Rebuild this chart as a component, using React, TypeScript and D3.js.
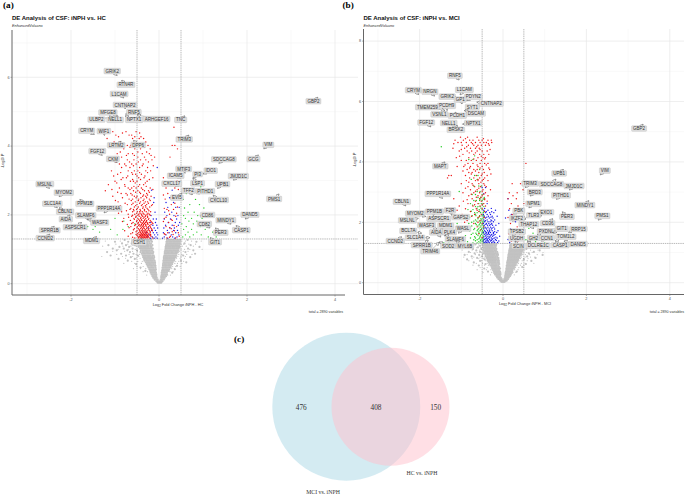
import React from "react";
import * as d3 from "d3";

// Each row: [-log10 P, log2FC, log2FC, ...]
const greyA: number[][] = [
[0.03,-.03,-.01,.01,.03,.05],[0.07,-.06,-.04,-.02,.02,.04,.06,.08],[0.12,-.1,-.08,-.05,-.03,.04,.06,.08,.11],
[0.17,-.13,-.1,-.08,-.05,.05,.07,.1,.13],[0.22,-.15,-.12,-.09,-.06,.05,.08,.11,.14,.16],[0.27,-.17,-.14,-.11,-.08,-.06,.06,.09,.12,.15,.18],
[0.32,-.19,-.16,-.13,-.1,-.07,.06,.09,.12,.15,.18,.3],[0.37,-.31,-.2,-.17,-.14,-.11,-.08,.07,.1,.13,.16,.19,.22],[0.42,-.22,-.19,-.16,-.13,-.1,-.07,.08,.11,.14,.17,.2,.23,.36],
[0.47,-.42,-.24,-.21,-.18,-.15,-.12,-.08,.08,.11,.14,.17,.2,.23,.26],[0.52,-.26,-.23,-.2,-.17,-.14,-.11,-.08,.09,.12,.15,.18,.21,.24,.27,.41],[0.57,-.52,-.28,-.25,-.22,-.19,-.16,-.13,-.09,.09,.12,.15,.18,.21,.24,.27,.3],
[0.62,-.3,-.27,-.24,-.21,-.18,-.15,-.12,-.09,.1,.13,.16,.19,.22,.25,.28,.31,.62],[0.67,-.71,-.33,-.29,-.26,-.23,-.2,-.17,-.14,-.1,.1,.13,.16,.19,.22,.25,.28,.31,.34,.5],[0.72,-.92,-.55,-.34,-.31,-.28,-.25,-.22,-.19,-.16,-.12,.11,.14,.17,.2,.23,.26,.29,.32,.35],
[0.77,-.64,-.36,-.33,-.3,-.27,-.24,-.21,-.18,-.15,-.11,.11,.14,.17,.2,.23,.26,.29,.32,.35,.38,.71],[0.82,-1.1,-.75,-.48,-.37,-.34,-.31,-.28,-.25,-.22,-.19,-.15,-.12,.12,.15,.18,.21,.24,.27,.3,.33,.36,.39,.55],[0.87,-.86,-.58,-.39,-.36,-.33,-.3,-.27,-.24,-.21,-.18,-.14,.13,.16,.19,.22,.25,.28,.31,.34,.37,.4,.82],
[0.92,-1.18,-.66,-.42,-.38,-.35,-.32,-.29,-.26,-.23,-.2,-.16,-.13,.13,.16,.19,.22,.25,.28,.31,.34,.37,.4,.43,.6],[0.97,-.96,-.72,-.5,-.41,-.37,-.34,-.31,-.28,-.25,-.22,-.18,-.15,.14,.17,.2,.23,.26,.29,.32,.35,.38,.41,.44,.78],[1.02,-1.05,-.8,-.6,-.43,-.4,-.37,-.34,-.31,-.28,-.25,-.21,-.18,-.14,.15,.18,.21,.24,.27,.3,.33,.36,.39,.42,.45,.66],
[1.07,-.9,-.68,-.46,-.42,-.39,-.36,-.33,-.3,-.27,-.24,-.2,-.17,.15,.18,.21,.24,.27,.3,.33,.36,.39,.42,.45,.47,.92],[1.12,-1.15,-.75,-.55,-.45,-.41,-.38,-.35,-.32,-.29,-.26,-.23,-.19,-.15,.16,.19,.22,.25,.28,.31,.34,.37,.4,.43,.46,.72],[1.17,-.84,-.62,-.47,-.44,-.41,-.38,-.35,-.32,-.29,-.26,-.22,-.18,.17,.2,.23,.26,.29,.32,.35,.38,.41,.44,.47,.58],
[1.22,-1.0,-.7,-.52,-.46,-.43,-.4,-.37,-.34,-.31,-.28,-.25,-.21,-.16,.17,.2,.23,.26,.29,.32,.35,.38,.41,.44,.47,.85],[1.27,-.78,-.58,-.48,-.45,-.42,-.39,-.36,-.33,-.3,-.27,-.24,-.2,-.17,.18,.21,.24,.27,.3,.33,.36,.39,.42,.45,.48,.65],
];
const greyHaloA: number[][] = [
[1.24,-1.22,-.88,-.62,-.55,.52,.6,.74,.96],[1.15,-.98,-.71,-.57,.5,.56,.68,.83],[1.09,-1.28,-.82,-.64,-.52,.53,.62,.78],[1.0,-.93,-.7,-.54,.5,.58,.7,.98],
[.94,-1.05,-.78,-.6,-.49,.47,.55,.66],[.85,-.96,-.68,-.52,-.44,.45,.52,.63,.75],[.79,-1.3,-.83,-.6,-.46,.43,.5,.6],[.74,-.76,-.52,-.43,.4,.48,.58],
[.65,-.62,-.48,-.38,.38,.45,.56],[.59,-.8,-.55,-.4,.36,.42,.52],[.5,-.5,-.36,.31,.38,.48],[.44,-.58,-.42,-.3,.29,.35],[.35,-.36,-.26,.25,.32],[.25,-.28,.2,.26],
];
const redA: number[][] = [
[4.55,.34],[4.42,-1.05,-.75,-.52],[4.32,-.98,-.68,-.62],[4.22,-1.18,-.6,-.45,-.35],[4.12,-1.02,-.88,-.56,-.3],[4.02,-.72,-.64,-.5,-.25,.3,.36],
[3.92,-.8,-.55,-.42,-.2,.42],[3.78,-.95,-.7,-.6,-.38,-.22],[3.68,-.85,-.48,-.33,-.1,.25],[3.6,-1.12,-1.0,-.72,-.57,-.42,-.3,-.16],[3.48,-.9,-.78,-.62,-.52,-.36],
[3.38,-.85,-.66,-.44,-.26,.48],[3.28,-1.08,-.7,-.56,-.48,-.3,-.19],[3.18,-.94,-.6,-.53,-.4,.25],[3.08,-.82,-.74,-.46,-.34,-.14,.1],[2.98,-1.0,-.65,-.58,-.5,-.27,.41],
[2.88,-1.15,-.78,-.44,-.35,.3],[2.78,-.9,-.7,-.62,-.52,-.4,-.2,.16,.36],[2.7,-1.22,-.58,-.48,-.33,-.24],[2.62,-.86,-.75,-.64,-.42,-.28,.2],[2.54,-1.05,-.56,-.5,-.37,-.3,-.18,.34],
[2.46,-.68,-.6,-.46,-.34,-.22,.14],[2.38,-.93,-.54,-.42,-.31,-.26],[2.3,-.72,-.62,-.5,-.38,-.28,-.15,.28],[2.23,-1.28,-.56,-.47,-.36,-.3,-.21,.42],
[2.16,-.66,-.58,-.51,-.43,-.33,-.25,.18,.33],[2.09,-.85,-.6,-.49,-.44,-.38,-.29,-.19],[2.02,-.7,-.55,-.46,-.4,-.34,-.27,-.22,.24],[1.96,-.62,-.52,-.45,-.37,-.31,-.26,.38],
[1.9,-.8,-.57,-.48,-.42,-.36,-.3,-.23,.12],[1.84,-.65,-.5,-.44,-.39,-.33,-.28,-.2,.3],[1.78,-.59,-.47,-.41,-.36,-.31,-.27,-.22,-.16,.22],[1.72,-.72,-.53,-.45,-.4,-.35,-.3,-.25,-.18],
[1.66,-.64,-.49,-.43,-.38,-.34,-.29,-.24,-.2,.4,.16],[1.6,-.56,-.47,-.42,-.37,-.33,-.28,-.23,-.17,.28],[1.54,-.78,-.5,-.44,-.4,-.36,-.32,-.27,-.22,-.15,.35],[1.48,-.6,-.46,-.42,-.38,-.34,-.3,-.26,-.2,.2,.44],
[1.43,-.52,-.45,-.41,-.37,-.33,-.29,-.25,-.19,.14,.32],[1.38,-.7,-.48,-.44,-.4,-.36,-.32,-.28,-.24,-.18,.26,.46],[1.33,-.55,-.47,-.43,-.39,-.35,-.31,-.27,-.22,-.14,.18,.38],
[4.38,-.83,-.44],[4.27,-.92,-.41,-.55],[4.07,-.79,-.38,-.6],[3.97,-1.1,-.66,-.33],[3.83,-.88,-.48,-.28],[3.73,-.74,-.56,-.18],[3.54,-.98,-.67,-.47,-.24],[3.43,-.75,-.58,-.38,-.13],
[3.23,-.87,-.62,-.44,-.26],[3.13,-1.03,-.71,-.5,-.32,.32],[3.03,-.86,-.6,-.42,-.22],[2.93,-.96,-.54,-.31,.2],[2.83,-.77,-.57,-.47,-.29],[2.74,-1.07,-.66,-.37,-.14,.44],[2.66,-.94,-.53,-.44,-.22],
[2.58,-.72,-.61,-.35,-.26,.1],[2.5,-.83,-.52,-.41,-.28,.27],[2.42,-.99,-.63,-.47,-.36,-.2],[2.34,-.77,-.59,-.44,-.34,-.24,.36],[2.27,-.88,-.53,-.4,-.31,-.17],[2.19,-.64,-.49,-.37,-.27,.12],
[2.12,-.74,-.57,-.42,-.33,-.23,.22],[2.05,-.92,-.51,-.43,-.36,-.25,.4],[1.99,-.6,-.48,-.39,-.3,-.2],[1.93,-.69,-.53,-.41,-.34,-.26,.16],[1.87,-.56,-.46,-.4,-.32,-.24,.28],[1.81,-.83,-.51,-.43,-.35,-.29,-.18,.1],
[1.75,-.62,-.48,-.38,-.33,-.26,-.14],[1.69,-.55,-.46,-.41,-.36,-.3,-.21,.34],[1.63,-.68,-.5,-.4,-.35,-.27,-.19,.24],[1.57,-.58,-.45,-.38,-.31,-.24,-.16],[1.51,-.52,-.43,-.37,-.32,-.28,-.2,.3],
[1.45,-.64,-.49,-.4,-.35,-.3,-.23,.12],[1.4,-.5,-.42,-.38,-.34,-.3,-.26,-.2],[1.35,-.6,-.46,-.41,-.37,-.33,-.29,-.25,.24],
];
const blueA: number[][] = [
[3.38,-.04],[2.72,-.17,.3],[2.5,-.11,.24,.41],[2.36,-.12,.16,.33],[2.22,.2,.38,.46],[2.08,-.09,.13,.29],[1.98,-.18,.18,.34,.43],
[1.88,-.13,-.06,.12,.26,.4],[1.78,-.2,-.08,.21,.37,.47],[1.7,-.14,-.05,.15,.3,.44],[1.62,-.24,-.11,-.03,.11,.25,.35],[1.55,-.17,-.08,.19,.33,.42],
[1.48,-.29,-.13,-.05,.1,.23,.38],[1.42,-.22,-.1,-.03,.16,.28,.45],[1.36,-.26,-.15,-.07,.12,.31,.41],[1.32,-.19,-.11,-.04,.08,.2,.36],
];
const greenA: number[][] = [
[2.82,.95],[2.62,.62],[2.45,.83,.55],[2.3,.7,.92],[2.2,1.02,.58],[2.08,.66,.8],[1.98,.56,.88,1.18],[1.9,.74,.98,.6,-1.0],[1.82,-1.28,-.8,.68,.86],
[1.74,.52,.78,1.08,-.55],[1.66,-1.62,-1.45,.62,.94,-.7],[1.58,-1.5,-1.1,-.82,.74,1.05,.56],[1.5,-1.35,.86,.66,1.22],[1.42,.6,.78,.96,-.95],[1.36,.54,.7,1.12,1.3],
];
const greyB: number[][] = [
[0.03,-.04,-.02,.0,.02,.04],[0.07,-.07,-.05,-.02,.02,.05,.07,.09],[0.12,-.11,-.08,-.06,-.03,.03,.06,.09,.12],[0.17,-.14,-.11,-.08,-.05,.05,.08,.11,.14],
[0.22,-.16,-.13,-.1,-.07,.05,.08,.11,.14,.17],[0.27,-.19,-.15,-.12,-.09,-.06,.06,.09,.12,.15,.18],[0.32,-.21,-.18,-.15,-.12,-.09,-.06,.06,.09,.12,.15,.18,.21],
[0.37,-.36,-.22,-.19,-.16,-.13,-.1,-.07,.07,.1,.13,.16,.19,.22,.33],[0.42,-.24,-.21,-.18,-.15,-.12,-.09,.08,.11,.14,.17,.2,.23],[0.47,-.45,-.26,-.23,-.2,-.17,-.14,-.1,-.07,.08,.11,.14,.17,.2,.23,.26],
[0.52,-.27,-.24,-.21,-.18,-.15,-.12,-.09,.09,.12,.15,.18,.21,.24,.27,.46],[0.57,-.58,-.3,-.27,-.24,-.21,-.18,-.15,-.11,.09,.12,.15,.18,.21,.24,.27,.3],[0.62,-.42,-.32,-.28,-.25,-.22,-.19,-.16,-.12,-.09,.1,.13,.16,.19,.22,.25,.28,.31,.55],
[0.67,-.7,-.34,-.3,-.27,-.24,-.21,-.18,-.14,-.1,.1,.13,.16,.19,.22,.25,.28,.31,.34],[0.72,-.55,-.36,-.33,-.3,-.27,-.24,-.21,-.18,-.14,-.1,.11,.14,.17,.2,.23,.26,.29,.32,.35,.68],[0.77,-.86,-.44,-.37,-.34,-.31,-.28,-.25,-.22,-.19,-.15,-.11,.12,.15,.18,.21,.24,.27,.3,.33,.36,.5],
[0.82,-.62,-.39,-.36,-.33,-.3,-.27,-.24,-.21,-.18,-.14,-.11,.12,.15,.18,.21,.24,.27,.3,.33,.36,.39,.78],[0.87,-.75,-.5,-.41,-.37,-.34,-.31,-.28,-.25,-.22,-.18,-.14,.13,.16,.19,.22,.25,.28,.31,.34,.37,.4,.58],[0.92,-.92,-.57,-.42,-.38,-.35,-.32,-.29,-.26,-.23,-.2,-.16,-.12,.13,.16,.19,.22,.25,.28,.31,.34,.37,.4,.43,.95],
[0.97,-.68,-.47,-.43,-.39,-.36,-.33,-.3,-.27,-.24,-.21,-.17,-.13,.14,.17,.2,.23,.26,.29,.32,.35,.38,.41,.44,.62],[1.02,-.82,-.55,-.45,-.41,-.38,-.35,-.32,-.29,-.26,-.22,-.18,-.14,.15,.18,.21,.24,.27,.3,.33,.36,.39,.42,.45,.74],[1.07,-.64,-.47,-.43,-.4,-.37,-.34,-.31,-.28,-.25,-.21,-.17,.15,.18,.21,.24,.27,.3,.33,.36,.39,.42,.45,.47,.88],
[1.12,-.72,-.52,-.46,-.42,-.39,-.36,-.33,-.3,-.27,-.24,-.2,-.16,.16,.19,.22,.25,.28,.31,.34,.37,.4,.43,.46,.56],[1.17,-.6,-.48,-.44,-.41,-.38,-.35,-.32,-.29,-.26,-.22,-.18,.17,.2,.23,.26,.29,.32,.35,.38,.41,.44,.47,.7],[1.22,-.78,-.55,-.47,-.43,-.4,-.37,-.34,-.31,-.28,-.25,-.21,-.17,.17,.2,.23,.26,.29,.32,.35,.38,.41,.44,.47,1.0],
[1.27,-.66,-.49,-.45,-.42,-.39,-.36,-.33,-.3,-.27,-.24,-.2,-.16,.18,.21,.24,.27,.3,.33,.36,.39,.42,.45,.48,.6],
];
const greyHaloB: number[][] = [
[1.25,-.92,-.7,-.58,.52,.62,.8,1.02],[1.16,-.85,-.63,-.53,.5,.58,.72,.9],[1.08,-.98,-.74,-.56,.52,.66,.84],[1.0,-.78,-.62,-.51,.5,.57,.7,.96],[.93,-.86,-.66,-.49,.47,.54,.64,.82],
[.85,-.94,-.7,-.55,-.45,.44,.53,.66,.76],[.8,-.74,-.58,-.47,.42,.49,.6],[.73,-.82,-.52,-.41,.38,.46,.58],[.64,-.64,-.49,-.38,.37,.44,.53,.74],[.58,-.72,-.44,-.35,.34,.42,.5],
[.5,-.55,-.38,.3,.38,.48],[.43,-.62,-.4,-.29,.28,.36],[.34,-.48,-.27,.24,.31],[.26,-.3,.2,.27],
];
const redB: number[][] = [
[4.82,-1.02,-.85,-.62],[4.72,-1.15,-.95,-.8,-.72,-.58,-.5,-.36,-.28],[4.64,-1.08,-1.0,-.88,-.76,-.66,-.55,-.46,-.4,-.27],[4.55,-.98,-.83,-.7,-.6,-.52,-.42,-.33],[4.45,-1.2,-.92,-.78,-.66,-.57],
[4.36,-1.05,-.86,-.75,-.62,-.5,-.38],[4.25,-.96,-.7,-.56,-.46,-.34],[4.14,-1.12,-.82,-.6,-.48,-.42],[4.05,-1.0,-.88,-.76,-.64,-.52],[3.95,-.84,-.72,-.55,-.44,-.36,.55],
[3.85,-1.1,-.94,-.78,-.6,-.5],[3.75,-.86,-.7,-.62,-.47,-.32],[3.65,-.82,-.74,-.58,-.45],[3.55,-1.3,-1.24,-.9,-.64,-.52,-.38],[3.47,-1.33,-.8,-.7,-.56,-.44],
[3.38,-.88,-.66,-.6,-.5,-.36],[3.28,-1.0,-.74,-.58,-.46,.22,.42],[3.18,-.84,-.68,-.54,-.4],[3.08,-.78,-.62,-.48,-.3,.48],[2.98,-.96,-.7,-.56,-.42,.15,.34],
[2.88,-.82,-.6,-.5,-.36,.24],[2.78,-1.18,-.74,-.56,-.44,.12,.32],[2.7,-.95,-.66,-.52,-.38],[2.62,-.84,-.6,-.46,.5,.2],[2.54,-1.05,-.72,-.55,-.42,.36],
[2.45,-.9,-.64,-.5,.16,.3],[2.36,-.78,-.58,-.44,.4],[2.26,-.98,-.68,-.52,.22],[2.16,-.6,-.45,.12],[2.06,-.86,-.55,.28,.44],[1.96,-.7,-.5,.18],
[1.85,-.62,-.46,.34],[1.75,-.54,.24],[1.62,-.58,.4,.14],[1.5,-.5,.28],[1.38,.2,.36],
[4.77,-.9,-.47],[4.6,-1.18,-.73,-.35],[4.5,-.87,-.63],[4.41,-1.0,-.55,-.31],[4.3,-.81,-.66],[4.19,-1.04,-.52],[4.1,-.7,-.44],[3.9,-.91,-.62,-.4],[3.8,-.8,-.55,-.34],[3.7,-.96,-.66],
[3.6,-.76,-.5,-.29],[3.42,-.6,-.47],[3.33,-.82,-.53],[3.23,-.72,-.44],[3.13,-.9,-.58],[3.03,-.66,-.5],[2.93,-.76,-.46],[2.83,-.64,-.53],[2.75,-.86,-.44],[2.58,-.68,-.5],[2.4,-1.1,-.62],[2.2,-.75,-.56],[2.0,-.92,-.6],
];
const greenB: number[][] = [
[4.5,-1.48],[4.2,-.68],[4.08,-.72,-.82],[3.75,-.56],[3.55,-.68,-.6],[3.42,-.62,-.76],[3.2,-.7,-.52,-.58],[3.02,-1.05,-.62,-.55],[2.92,-.66,-.5,-.74],
[2.82,-.6,-.53,-.45],[2.72,-.7,-.64,-.5,-.56],[2.62,-.78,-.58,-.48,-.52],[2.52,-.66,-.6,-.55,-.46],[2.42,-.84,-.72,-.57,-.5],[2.32,-.62,-.54,-.47,-.68],
[2.22,-.74,-.65,-.56,-.5,-.46],[2.12,-.9,-.6,-.53,-.48],[2.04,-.7,-.63,-.57,-.5,-.46],[1.96,-1.1,-.82,-.66,-.55,-.48],[1.88,-.75,-.6,-.53,-.47],
[1.8,-.68,-.58,-.51,-.46,.62],[1.72,-1.05,-.8,-.62,-.55,-.49],[1.64,-.72,-.65,-.57,-.5,-.46,.72],[1.56,-.9,-.6,-.54,-.48],[1.48,-1.2,-.78,-.66,-.56,-.5,.88],
[1.42,-.7,-.62,-.53,-.47,.55],[1.36,-1.3,-.85,-.58,-.5,.78],[1.32,-1.42,-.72,-.62,-.55,-.47,1.0],
[2.77,-.55,-.47],[2.57,-.73,-.49],[2.47,-.62,-.53],[2.37,-.76,-.56,-.46],[2.27,-.66,-.5],[2.17,-.8,-.58,-.47],[2.08,-.66,-.52],[2.0,-.75,-.54,-.48],[1.92,-.64,-.57,-.5],[1.84,-.8,-.55,-.47],[1.76,-.7,-.6,-.52],
[1.68,-.58,-.5,-.47],[1.6,-.76,-.63,-.52],[1.52,-.68,-.55,-.47],[1.45,-.58,-.5],[1.39,-.66,-.54,-.48],
];
const blueB: number[][] = [
[3.15,-.5,-.42],[2.95,-.46],[2.78,.12],[2.62,-.38],[2.46,-.44,-.28],[2.4,-.46,-.36,-.18,.14],[2.32,-.42,-.32,-.22],[2.26,-.47,-.38,-.3,.2],[2.2,-.45,-.35,-.26,-.14],
[2.14,-.42,-.33,-.24,.06],[2.08,-.46,-.38,-.29,-.2],[2.02,-.44,-.36,-.31,-.23,.3],[1.96,-.47,-.4,-.34,-.27,-.1],[1.9,-.45,-.37,-.32,-.25,-.17],[1.84,-.43,-.36,-.3,-.22],
[1.78,-.46,-.39,-.33,-.28,-.2,.18],[1.72,-.44,-.37,-.32,-.26,-.12],[1.66,-.47,-.4,-.35,-.3,-.23,-.15],[1.6,-.45,-.38,-.33,-.27,-.19],[1.54,-.43,-.36,-.31,-.25,-.08,.24],
[1.48,-.46,-.4,-.34,-.28,-.21,-.14],[1.43,-.44,-.38,-.32,-.26,-.18,.12],[1.38,-.47,-.41,-.35,-.3,-.22,-.1,.3],[1.33,-.45,-.39,-.33,-.27,-.2,-.13,.16],
[2.35,-.4,-.27],[2.17,-.39,-.29],[2.05,-.42,-.27],[1.93,-.41,-.29],[1.81,-.41,-.26],[1.69,-.42,-.33,-.2],[1.63,-.41,-.35,-.23],[1.57,-.41,-.29,-.22],[1.51,-.39,-.32,-.17],[1.46,-.42,-.36,-.24],[1.4,-.38,-.28,-.16],[1.35,-.42,-.36,-.24],
];

const geneNamesA = ["GRIK2","RTN4R","L1CAM","CNTNAP2","MFGE8","RNF5","ULBP2","NELL1","NPTX1","ARHGEF16","TNC","CRYM","WIF1","LRTM2","DPP6","FGF12","CKM","MSLNL","MYOM2","SLC1A4","PPM1B","CBLN1","PPP1R14A","SLAMF6","AIDA","WASF3","ASPSCR1","SPRR1B","CCND2","MDM1","CSH1","GBP2","TRIM3","VIM","SDCCAG8","GCG","IDO1","PI3","MTIF3","ICAM5","CXCL17","JMJD1C","UPB1","LSP1","TFF2","PITHD1","CXCL10","EVI5","PMS1","CD86","DAND5","MINDY1","CD82","CASP1","PER3","GIT1"];
const geneFcA = [-.95,-.85,-.8,-.77,-.95,-.76,-1.05,-.93,-.77,-.5,.59,-1.47,-1.24,-.86,-.58,-1.29,-.95,-2.49,-2.27,-2.31,-1.8,-2.27,-1.25,-1.62,-2.02,-1.62,-1.76,-2.38,-2.48,-1.42,-.39,3.61,.68,2.38,1.36,2.26,1.0,.77,.59,.5,.45,1.69,1.33,.77,.76,.84,1.23,.52,2.73,.93,1.96,1.64,1.16,1.75,1.28,1.16];
const geneLpA = [6.05,5.92,5.4,5.08,4.88,4.93,4.85,4.88,4.88,4.91,4.88,4.34,4.31,4.14,4.17,3.73,3.52,2.77,2.53,2.21,2.45,2.21,2.06,1.85,2.0,1.87,1.78,1.67,1.44,1.37,1.32,5.42,4.32,3.92,3.5,3.74,3.19,3.07,3.21,3.07,2.84,3.01,2.77,3.07,2.58,2.63,2.57,2.63,2.61,1.97,1.88,1.73,1.62,1.69,1.62,1.34];
const labelDxA = [-5,4.3,-4.7,0,-9.3,8.3,-16.3,-3,9,19.7,-4.3,-7.6,-.6,-5,4.7,-5,-4.3,-4.6,4.7,-5,5,6,5,-2,-4.3,12,-6.4,-4.6,-4.7,-5,-2.7,-4.4,-4.7,4.6,5,-5,7.7,4.7,-1.3,-5.3,-7,5,5,4.7,-4,9.3,5.4,-5,-5,7.7,4.7,-5.3,-5.7,5.3,5.4,5];
const labelDyA = [-4.5,4.7,-4,-4,-3.4,-2,2.7,4,4,4.3,4,-3.6,-4.3,4,4.7,-4.3,-3.7,-4.3,-4,-4,4.4,4,-4.4,-4.7,4.3,3.2,4.7,4,4,4.3,4.4,4,4.3,-4,-4,4,-3.3,-4,-4.3,-2.3,-2.3,-4,-4.3,5.3,-4.3,-2,4.7,4.4,5,-1,-4.3,-4,-4,4.6,4.7,4.6];

const geneNamesB = ["RNF5","CRYM","NRGN","L1CAM","GRIK2","PDYN2","GP1","CNTNAP2","SYT1","PCDH9","TMEM259","DSCAM","VSNL1","PCDH1","FGF12","NELL1","NPTX1","BRSK2","MAPT","PPP1R14A","CBLN1","PPM1B","F2R","MYOM2","GAPS2","ASPSCR1","MSLNL","WASF3","MDM1","WASL","BCL7A","AIDA","PLK4","SLC1A4","SLAMF6","CCND2","SPRR1B","SOD2","MYL6B","TRIM46","GBP2","VIM","UPB1","TRIM3","SDCCAG8","JMJD1C","BRD3","PITHD1","NPM1","MINDY1","PBK","EXO1","TLR3","IKZF2","PER3","PMS1","CD36","THAP12","PXDNL","GIT1","RRP15","TPSB2","UGDH","GH2","CCN1","TOM1L2","CASP1","DAND5","DCLRE1C","SCIN"];
const geneFcB = [-1.05,-2.02,-1.64,-1.03,-1.13,-.87,-.98,-.63,-.91,-1.34,-1.39,-.93,-1.34,-1.15,-1.73,-1.15,-.97,-1.1,-1.39,-1.45,-2.33,-1.67,-1.23,-1.85,-1.23,-1.43,-2.03,-1.58,-1.51,-1.07,-1.95,-1.49,-1.41,-1.75,-1.39,-2.43,-1.79,-1.53,-1.13,-1.53,3.36,2.33,1.45,.53,1.27,1.59,.65,1.28,.62,2.06,.25,.84,.46,.22,1.42,2.28,1.2,.74,.82,1.2,1.57,.22,.19,.58,.91,1.25,1.25,1.46,.58,.29];
const geneLpB = [6.71,6.23,6.18,6.22,6.16,6.03,5.92,5.98,5.72,5.7,5.7,5.7,5.65,5.65,5.16,5.19,5.25,5.22,4.0,2.79,2.54,2.22,2.24,2.19,2.24,2.02,2.13,1.78,1.71,1.64,1.64,1.51,1.55,1.49,1.58,1.52,1.41,1.35,1.38,1.34,5.25,3.57,3.76,3.15,3.43,3.07,2.87,2.76,2.48,2.72,2.27,2.21,2.11,2.04,2.35,2.07,2.12,1.79,1.58,1.65,1.67,1.55,1.42,1.38,1.38,1.38,1.35,1.38,1.35,1.38];
const labelDxB = [-4.3,-5.4,-4.7,4.3,-8.7,6.6,-2,14.6,7.3,-.6,-17.7,11.7,-7.7,2.3,-4.7,-6.3,10.6,-1.3,-4.7,-4.7,-4,1,-1.7,-10.7,9,-4.6,-11,-10.6,5.7,4.7,-13.4,-4.7,5.3,-15,10.3,-6.4,-6.6,9,9,-9,-4,4.7,-4.3,5,-4.7,4.7,4.7,4.7,4.6,-4,5.4,8.3,11.3,4.7,4.7,4.3,-5.3,-5,9,8.7,10,4.7,5.7,6.3,6,10.7,5,14.3,11,3.3];
const labelDyB = [-4.3,-4.4,-4.3,-5,0,-3.7,-4.3,1.7,-3,-4.7,-3.4,3,2.3,3.7,-4.3,-3,-1,4.7,4.3,-4.6,-4.3,-4,-4.7,-3,2,-3,2,-3.7,-5.3,-4.6,-2.3,-4.7,-3.7,0,4.3,4.3,5,4,5,9,4.4,-4.3,4.3,-4,5,-4,-4,-4,-4,4.6,-3.3,-3.7,-3.7,-3,5,-4.3,4.6,-4.4,-3.7,-4,-3.3,-4.3,-1.3,-3,-3,-4.3,3.3,3,3.7,5];

const xTicks = [-2, 0, 2, 4];
const xMinor = [-3, -1, 1, 3];
const yTicksA = [0, 2, 4, 6];
const yTicksB = [0, 2, 4, 6, 8];
const yMinor = [1, 3, 5, 7];
const vennCounts = [476, 408, 150];
const vennNames = ["MCI vs. iNPH", "HC vs. iNPH"];

const SANS = "'Liberation Sans', Arial, sans-serif";
const SERIF = "'Liberation Serif', 'Times New Roman', serif";

const ctx = typeof document !== "undefined" ? document.createElement("canvas").getContext("2d") : null;
function textWidth(s: string, font: string) {
  if (!ctx) return s.length * 3;
  ctx.font = font;
  return ctx.measureText(s).width;
}

function expand(rows: number[][]) {
  const out: [number, number][] = [];
  rows.forEach((r) => r.slice(1).forEach((x) => out.push([x, r[0]])));
  return out;
}

type VolcanoProps = {
  left: number; right: number; gridRight: number; top: number; bottom: number;
  x0: number; xUnit: number; y0: number; yUnit: number;
  title: string; xLabel: string; titleY: number; subY: number; captionX: number; captionY: number;
  xLabelX: number; xLabelY: number; yLabelX: number; yLabelY: number;
  grey: number[][]; halo: number[][]; red: number[][]; blue: number[][]; green: number[][];
  yTicks: number[]; names: string[]; fc: number[]; lp: number[]; dx: number[]; dy: number[];
};

function Volcano(p: VolcanoProps) {
  const x = d3.scaleLinear().domain([0, 1]).range([p.x0, p.x0 + p.xUnit]);
  const y = d3.scaleLinear().domain([0, 1]).range([p.y0, p.y0 - p.yUnit]);
  const layers: [number[][], string, number][] = [
    [p.grey, "#c2c2c2", 1.1], [p.halo, "#c2c2c2", 0.6], [p.green, "#22cc22", 0.7], [p.blue, "#1a1ae6", 0.7], [p.red, "#ee1111", 0.7],
  ];
  const labelFont = `4.5px ${SANS}`;
  const yTop = p.top;
  return (
    <g>
      {yMinor.map((t) => y(t) > yTop && <line key={t} x1={p.left} x2={p.gridRight} y1={y(t)} y2={y(t)} stroke="#f3f3f3" strokeWidth={0.5} />)}
      {xMinor.map((t) => <line key={t} x1={x(t)} x2={x(t)} y1={p.top} y2={p.bottom} stroke="#f3f3f3" strokeWidth={0.5} />)}
      {p.yTicks.map((t) => <line key={t} x1={p.left} x2={p.gridRight} y1={y(t)} y2={y(t)} stroke="#e8e8e8" strokeWidth={0.7} />)}
      {xTicks.map((t) => <line key={t} x1={x(t)} x2={x(t)} y1={p.top} y2={p.bottom} stroke="#e8e8e8" strokeWidth={0.7} />)}
      {layers.map(([rows, col, r], i) => (
        <g key={i} fill={col}>
          {expand(rows).map(([a, b], j) => <circle key={j} cx={x(a)} cy={y(b)} r={r} />)}
        </g>
      ))}
      {[-0.5, 0.5].map((v) => <line key={v} x1={x(v)} x2={x(v)} y1={p.top} y2={p.bottom} stroke="#8a8a8a" strokeWidth={0.6} strokeDasharray="1.4 0.8" />)}
      <line x1={p.left} x2={p.gridRight} y1={y(1.3)} y2={y(1.3)} stroke="#8a8a8a" strokeWidth={0.6} strokeDasharray="1.4 0.8" />
      <line x1={p.left} x2={p.left} y1={p.top} y2={p.bottom} stroke="#666" strokeWidth={1} />
      <line x1={p.left} x2={p.right} y1={p.bottom} y2={p.bottom} stroke="#666" strokeWidth={1} />
      {xTicks.map((t) => (
        <g key={t}>
          <line x1={x(t)} x2={x(t)} y1={p.bottom} y2={p.bottom + 1.5} stroke="#666" strokeWidth={0.5} />
          <text x={x(t)} y={p.bottom + 5.5} fontSize={3.8} textAnchor="middle" fill="#555" fontFamily={SANS}>{t < 0 ? `-${-t}` : t}</text>
        </g>
      ))}
      {p.yTicks.map((t) => (
        <g key={t}>
          <line x1={p.left - 1.5} x2={p.left} y1={y(t)} y2={y(t)} stroke="#666" strokeWidth={0.5} />
          <text x={p.left - 2.5} y={y(t) + 1.3} fontSize={3.8} textAnchor="end" fill="#555" fontFamily={SANS}>{t}</text>
        </g>
      ))}
      {p.names.map((n, i) => {
        const px = x(p.fc[i]), py = y(p.lp[i]);
        const lx = px + p.dx[i], ly = py + p.dy[i];
        const w = textWidth(n, labelFont) + 3;
        const h = 5.6;
        return (
          <g key={n + i}>
            <line x1={lx} y1={ly} x2={px} y2={py} stroke="#555" strokeWidth={0.35} markerEnd="url(#tip)" />
            <rect x={lx - w / 2} y={ly - h / 2} width={w} height={h} rx={0.8} fill="#dedede" stroke="#b5b5b5" strokeWidth={0.35} />
            <text x={lx} y={ly + 1.6} fontSize={4.5} textAnchor="middle" fill="#333" fontFamily={SANS}>{n}</text>
          </g>
        );
      })}
      <text x={p.left} y={p.titleY} fontSize={6} fontWeight="bold" fill="#111" fontFamily={SANS}>{p.title}</text>
      <text x={p.left} y={p.subY} fontSize={3.8} fontStyle="italic" fill="#333" fontFamily={SANS}>EnhancedVolcano</text>
      <text x={p.xLabelX} y={p.xLabelY} fontSize={3.9} textAnchor="middle" fill="#333" fontFamily={SANS}>
        Log<tspan fontSize={2.8} dy={0.8}>2</tspan><tspan dy={-0.8}> {p.xLabel}</tspan>
      </text>
      <text transform={`translate(${p.yLabelX},${p.yLabelY}) rotate(-90)`} fontSize={3.9} textAnchor="middle" fill="#333" fontFamily={SANS}>
        -Log<tspan fontSize={2.8} dy={0.8}>10</tspan><tspan dy={-0.8}> P</tspan>
      </text>
      <text x={p.captionX} y={p.captionY} fontSize={3.6} textAnchor="end" fill="#333" fontFamily={SANS}>total = 2890 variables</text>
    </g>
  );
}

export default function App() {
  return (
    <svg width={685} height={496} viewBox="0 0 685 496" style={{ position: "absolute", left: 0, top: 0, background: "#fff" }}>
      <defs>
        <marker id="tip" viewBox="0 0 4 4" refX="3.6" refY="2" markerWidth="4" markerHeight="4" markerUnits="userSpaceOnUse" orient="auto">
          <path d="M0.3,0.4 L3.6,2 L0.3,3.6 Z" fill="#fff" stroke="#555" strokeWidth={0.5} />
        </marker>
      </defs>
      <text x={3} y={8} fontSize={9.2} fontWeight="bold" fontFamily={SERIF}>(a)</text>
      <text x={342.5} y={8} fontSize={9.2} fontWeight="bold" fontFamily={SERIF}>(b)</text>
      <text x={234} y={342} fontSize={9.2} fontWeight="bold" fontFamily={SERIF}>(c)</text>
      <Volcano left={12} right={345} gridRight={358} top={30} bottom={295} x0={159} xUnit={44} y0={283.7} yUnit={34.4}
        title="DE Analysis of CSF: iNPH vs. HC" xLabel="Fold Change iNPH - HC" titleY={20} subY={27}
        captionX={343} captionY={312.5} xLabelX={178} xLabelY={306} yLabelX={3.5} yLabelY={161}
        grey={greyA} halo={greyHaloA} red={redA} blue={blueA} green={greenA} yTicks={yTicksA}
        names={geneNamesA} fc={geneFcA} lp={geneLpA} dx={labelDxA} dy={labelDyA} />
      <Volcano left={363.5} right={684} gridRight={684} top={29} bottom={294.5} x0={503} xUnit={41.7} y0={282.7} yUnit={30.2}
        title="DE Analysis of CSF: iNPH vs. MCI" xLabel="Fold Change iNPH - MCI" titleY={20} subY={26.5}
        captionX={684} captionY={312.5} xLabelX={525} xLabelY={305} yLabelX={355.5} yLabelY={160}
        grey={greyB} halo={greyHaloB} red={redB} blue={blueB} green={greenB} yTicks={yTicksB}
        names={geneNamesB} fc={geneFcB} lp={geneLpB} dx={labelDxB} dy={labelDyB} />
      <circle cx={346.3} cy={406.7} r={74} fill="#add8e6" fillOpacity={0.52} />
      <circle cx={390.5} cy={406.7} r={59} fill="#ffc0cb" fillOpacity={0.5} />
      {[301.3, 376, 435.7].map((cx, i) => (
        <text key={i} x={cx} y={409.5} fontSize={7.3} textAnchor="middle" fill="#333" fontFamily={SERIF}>{vennCounts[i]}</text>
      ))}
      <text x={323} y={493.5} fontSize={5.8} textAnchor="middle" fill="#333" fontFamily={SERIF}>{vennNames[0]}</text>
      <text x={422} y={474.5} fontSize={5.8} textAnchor="middle" fill="#333" fontFamily={SERIF}>{vennNames[1]}</text>
    </svg>
  );
}
